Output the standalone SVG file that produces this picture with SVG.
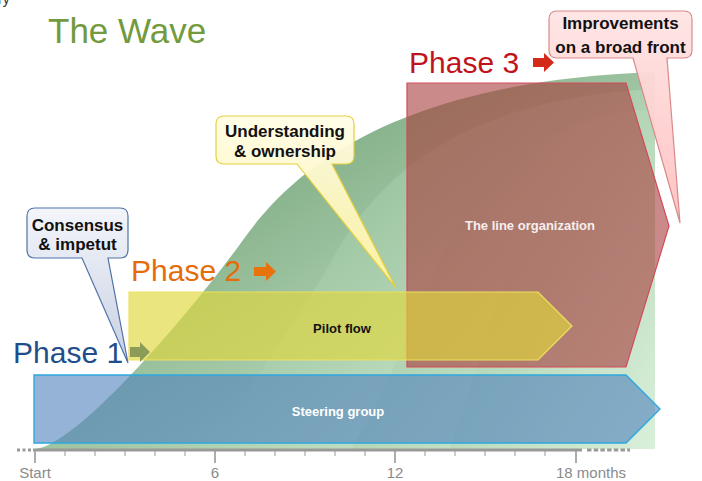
<svg xmlns="http://www.w3.org/2000/svg" width="702" height="481" viewBox="0 0 702 481">
<style>
  .title { font-family: "Liberation Sans", Arial, sans-serif; }
  .phase { font-family: "Liberation Sans", Arial, sans-serif; font-size: 30px; }
  .bar { font-family: "Liberation Sans", Arial, sans-serif; font-weight: bold; font-size: 13px; text-anchor: middle; }
  .call { font-family: "Liberation Sans", Arial, sans-serif; font-weight: bold; font-size: 17px; text-anchor: middle; fill: #111; }
  .axl { font-family: "Liberation Sans", Arial, sans-serif; font-size: 15px; fill: #8a8a8a; }
  .tick { stroke: #999; stroke-width: 1; }
  .major { stroke: #999; stroke-width: 1.6; }
</style>
<defs>
  <path id="wavePath" d="M35,449 C80,445 200,300 243,240 C286,180 380,82 655,72 L655,449 Z"/>
  <linearGradient id="g1" x1="0" y1="0" x2="1" y2="1">
    <stop offset="0.35" stop-color="#89b48d"/>
    <stop offset="1" stop-color="#dff3df"/>
  </linearGradient>
  <linearGradient id="g2" x1="0" y1="0" x2="1" y2="1">
    <stop offset="0.35" stop-color="#9ec6a2"/>
    <stop offset="1" stop-color="#e0f4e0"/>
  </linearGradient>
  <linearGradient id="g3" x1="0" y1="0" x2="1" y2="1">
    <stop offset="0.35" stop-color="#a8cdab"/>
    <stop offset="1" stop-color="#e0f4e0"/>
  </linearGradient>
  <linearGradient id="g4" x1="0" y1="0" x2="1" y2="1">
    <stop offset="0.35" stop-color="#b0d3b3"/>
    <stop offset="1" stop-color="#e0f4e0"/>
  </linearGradient>
  <linearGradient id="cBlue" x1="0" y1="0" x2="0" y2="1">
    <stop offset="0" stop-color="#f2f4fa"/>
    <stop offset="1" stop-color="#c4cce0"/>
  </linearGradient>
  <linearGradient id="cYellow" x1="0" y1="0" x2="0" y2="1">
    <stop offset="0" stop-color="#fffde6"/>
    <stop offset="1" stop-color="#fff2a0"/>
  </linearGradient>
  <linearGradient id="cPink" x1="0" y1="0" x2="0" y2="1">
    <stop offset="0" stop-color="#ffe4e4"/>
    <stop offset="1" stop-color="#ffc0c0"/>
  </linearGradient>
  <clipPath id="waveClip"><rect x="0" y="0" width="655" height="449"/></clipPath>
</defs>

<text class="title" x="-2" y="4" font-size="14" fill="#333">ry</text>
<text id="title" class="title" x="48" y="43" font-size="35" fill="#739a3c">The Wave</text>

<g id="wave" clip-path="url(#waveClip)">
  <use href="#wavePath" fill="url(#g1)"/>
  <use href="#wavePath" fill="url(#g2)" transform="translate(655,17) scale(0.78,1) translate(-655,0)"/>
  <use href="#wavePath" fill="url(#g3)" transform="translate(655,37) scale(0.54,1) translate(-655,0)"/>
  <use href="#wavePath" fill="url(#g4)" transform="translate(655,70) scale(0.39,1) translate(-655,0)"/>
</g>

<g id="line-organization">
  <path d="M407,83 H626 L669,226 L626,367 H407 Z" fill="#a83c3c" fill-opacity="0.6" stroke="#d24a5a" stroke-width="1.2"/>
  <text class="bar" x="530" y="230" fill="#f6eeee">The line organization</text>
</g>

<g id="pilot-flow">
  <path d="M129,292 H538 L572,326 L538,360 H129 Z" fill="#e1d73c" fill-opacity="0.65" stroke="#eee060" stroke-width="1.2"/>
  <text class="bar" x="342" y="333" fill="#111">Pilot flow</text>
</g>

<g id="steering-group">
  <path d="M34,375 H626 L660,409 L626,443 H34 Z" fill="#4f81bd" fill-opacity="0.6" stroke="#2ea8df" stroke-width="1.4"/>
  <text class="bar" x="338" y="416" fill="#ffffff" font-size="13.5">Steering group</text>
</g>

<g id="axis">
  <line x1="17" y1="450" x2="32" y2="450" stroke="#999" stroke-width="3" stroke-dasharray="3,2.5"/>
  <line x1="33" y1="450" x2="582" y2="450" stroke="#999" stroke-width="3"/>
  <line x1="587" y1="450" x2="630" y2="450" stroke="#999" stroke-width="3" stroke-dasharray="4.5,2.2"/>
  <g class="tick">
    <line x1="65" y1="451" x2="65" y2="456"/>
    <line x1="95" y1="451" x2="95" y2="456"/>
    <line x1="125" y1="451" x2="125" y2="456"/>
    <line x1="155" y1="451" x2="155" y2="456"/>
    <line x1="185" y1="451" x2="185" y2="456"/>
    <line x1="245" y1="451" x2="245" y2="456"/>
    <line x1="275" y1="451" x2="275" y2="456"/>
    <line x1="305" y1="451" x2="305" y2="456"/>
    <line x1="335" y1="451" x2="335" y2="456"/>
    <line x1="365" y1="451" x2="365" y2="456"/>
    <line x1="425" y1="451" x2="425" y2="456"/>
    <line x1="455" y1="451" x2="455" y2="456"/>
    <line x1="485" y1="451" x2="485" y2="456"/>
    <line x1="515" y1="451" x2="515" y2="456"/>
    <line x1="545" y1="451" x2="545" y2="456"/>
  </g>
  <g class="major">
    <line x1="35" y1="451" x2="35" y2="463"/>
    <line x1="215" y1="451" x2="215" y2="463"/>
    <line x1="395" y1="451" x2="395" y2="463"/>
    <line x1="576" y1="451" x2="576" y2="463"/>
  </g>
  <text class="axl" x="35" y="478" text-anchor="middle">Start</text>
  <text class="axl" x="215" y="478" text-anchor="middle">6</text>
  <text class="axl" x="395" y="478" text-anchor="middle">12</text>
  <text class="axl" x="556" y="478">18 months</text>
</g>

<g id="phase-1">
  <text class="phase" x="13" y="363" fill="#1f4e8c">Phase 1</text>
  <path d="M130,347 H140 V342 L150,352 L140,362 V357 H130 Z" fill="#8c9c58"/>
</g>
<g id="phase-2">
  <text class="phase" x="131" y="281" fill="#e46c0a">Phase 2</text>
  <path d="M254,267 H266 V262 L276,271.5 L266,281 V276 H254 Z" fill="#e8720c"/>
</g>
<g id="phase-3">
  <text class="phase" x="409" y="73" fill="#c0141c">Phase 3</text>
  <path d="M533,58 H544 V53 L554,62.5 L544,72 V67 H533 Z" fill="#d42a1a"/>
</g>

<g id="callout-consensus">
  <path d="M35,208 H120 Q128,208 128,216 V250 Q128,258 120,258 H108 L128,363 L82,258 H35 Q27,258 27,250 V216 Q27,208 35,208 Z" fill="url(#cBlue)" fill-opacity="0.92" stroke="#4f73a8" stroke-width="1.2"/>
  <text class="call" x="77.5" y="231">Consensus</text>
  <text class="call" x="77.5" y="250">&amp; impetut</text>
</g>

<g id="callout-understanding">
  <path d="M224,116 H346 Q354,116 354,124 V156 Q354,164 346,164 H332 L396,288 L297,164 H224 Q216,164 216,156 V124 Q216,116 224,116 Z" fill="url(#cYellow)" fill-opacity="0.95" stroke="#e6cf3a" stroke-width="1.2"/>
  <text class="call" x="285" y="137">Understanding</text>
  <text class="call" x="285" y="157">&amp; ownership</text>
</g>

<g id="callout-improvements">
  <path d="M557,11 H684 Q692,11 692,19 V50 Q692,58 684,58 H667 L680,223 L633,58 H557 Q549,58 549,50 V19 Q549,11 557,11 Z" fill="url(#cPink)" fill-opacity="0.95" stroke="#d88a8a" stroke-width="1.2"/>
  <text class="call" x="620.5" y="29">Improvements</text>
  <text class="call" x="620.5" y="52.5">on a broad front</text>
</g>
</svg>
